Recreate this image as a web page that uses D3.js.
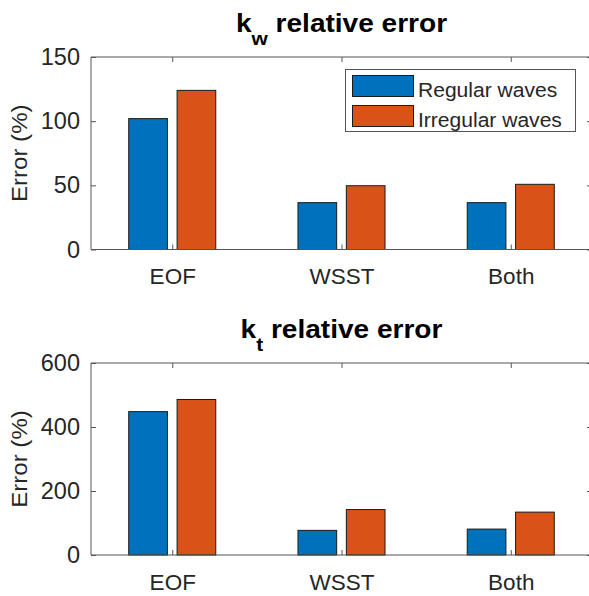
<!DOCTYPE html>
<html>
<head>
<meta charset="utf-8">
<script src="https://cdn.jsdelivr.net/npm/d3@7"></script>
<style>
  html, body { margin: 0; padding: 0; background: #fff; }
  svg { display: block; font-family: 'Liberation Sans', Arial, Helvetica, sans-serif; }
  .tick text { fill: #262626; }
  .tick line { stroke: #555; }
</style>
</head>
<body>
<div id="chart"></div>
<script>
// Data
const categories = ['EOF', 'WSST', 'Both']
const seriesNames = ['Regular waves', 'Irregular waves']
const seriesColors = ['#0072BD', '#D95319']

const kwRegular = [102, 36.5, 36.5]
const kwIrregular = [124, 49.7, 50.8]
const ktRegular = [448, 77, 81]
const ktIrregular = [486, 142, 134]

const kwTicks = [0, 50, 100, 150]
const ktTicks = [0, 200, 400, 600]

const width = 589
const height = 596

const svg = d3.select('#chart')
  .append('svg')
  .attr('width', width)
  .attr('height', height)

// Shared x scale (MATLAB style grouped bar positions 1..3)
const xScale = d3.scaleLinear().domain([0.52, 3.48]).range([91, 592])
const groupWidth = 2 / 3.5
const barWidth = groupWidth / 2 * 0.8

// Text with a slight horizontal stretch to mimic the wider renderer font
function stretchText(sel, x, y, sx, rotate) {
  const rot = rotate ? ` rotate(${rotate})` : ''
  return sel.attr('transform', `translate(${x},${y})${rot} scale(${sx},1)`)
}

function drawPanel(top, bottom, yMax, ticks, regular, irregular, sub, showLegend) {
  const yScale = d3.scaleLinear().domain([0, yMax]).range([bottom, top])
  const g = svg.append('g')
  const left = xScale.range()[0]
  const right = xScale.range()[1]

  // Bars
  const series = [regular, irregular]
  series.forEach((vals, s) => {
    g.selectAll(null)
      .data(vals)
      .enter()
      .append('rect')
      .attr('x', (d, i) => xScale(i + 1 + (s === 0 ? -1 : 1) * groupWidth / 4 - barWidth / 2))
      .attr('width', xScale(barWidth) - xScale(0))
      .attr('y', d => yScale(d))
      .attr('height', d => yScale(0) - yScale(d))
      .attr('fill', seriesColors[s])
      .attr('stroke', '#1a1a1a')
      .attr('stroke-width', 1)
  })

  // Box
  g.append('path')
    .attr('d', `M${right},${top}H${left}V${bottom}H${right}`)
    .attr('fill', 'none')
    .attr('stroke', '#555')
    .attr('stroke-width', 1)

  // Bottom axis
  g.append('g')
    .attr('transform', `translate(0,${bottom})`)
    .call(d3.axisBottom(xScale)
      .tickValues([1, 2, 3])
      .tickSize(-5)
      .tickSizeOuter(0)
      .tickPadding(19)
      .tickFormat(d => categories[d - 1]))
    .call(a => a.select('.domain').remove())
    .selectAll('text')
    .attr('font-size', 22.5)

  // Top axis ticks
  g.append('g')
    .attr('transform', `translate(0,${top})`)
    .call(d3.axisTop(xScale).tickValues([1, 2, 3]).tickSize(-5).tickSizeOuter(0).tickFormat(''))
    .call(a => a.select('.domain').remove())

  // Left axis
  g.append('g')
    .attr('transform', `translate(${left},0)`)
    .call(d3.axisLeft(yScale)
      .tickValues(ticks)
      .tickSize(-5)
      .tickSizeOuter(0)
      .tickPadding(11)
      .tickFormat(d3.format('d')))
    .call(a => a.select('.domain').remove())
    .selectAll('text')
    .attr('font-size', 23.5)

  // Right axis ticks
  g.append('g')
    .attr('transform', `translate(${right},0)`)
    .call(d3.axisRight(yScale).tickValues(ticks).tickSize(-5).tickSizeOuter(0).tickFormat(''))
    .call(a => a.select('.domain').remove())

  // Y label
  stretchText(g.append('text'), 27, (top + bottom) / 2, 1.12, -90)
    .attr('text-anchor', 'middle')
    .attr('font-size', 21.5)
    .attr('fill', '#262626')
    .text('Error (%)')

  // Title
  const title = stretchText(g.append('text'), (left + right) / 2, top - 25, 1.1)
    .attr('text-anchor', 'middle')
    .attr('font-size', 25.5)
    .attr('font-weight', 'bold')
    .attr('fill', '#000')
  title.append('tspan').text('k')
  title.append('tspan').attr('dy', 13).attr('font-size', 19).text(sub)
  title.append('tspan').attr('dy', -13).text(' relative error')

  if (showLegend) {
    const lg = g.append('g')
    lg.append('rect')
      .attr('x', 345.5).attr('y', 69.5)
      .attr('width', 230).attr('height', 62)
      .attr('fill', '#fff')
      .attr('stroke', '#555')
      .attr('stroke-width', 1)
    seriesNames.forEach((name, i) => {
      lg.append('rect')
        .attr('x', 352.5).attr('y', 75.5 + i * 30)
        .attr('width', 61).attr('height', 21)
        .attr('fill', seriesColors[i])
        .attr('stroke', '#1a1a1a')
      stretchText(lg.append('text'), 418, 96.5 + i * 30, 1.08)
        .attr('font-size', 19.5)
        .attr('fill', '#262626')
        .text(name)
    })
  }
}

drawPanel(57, 249.5, 150, kwTicks, kwRegular, kwIrregular, 'w', true)
drawPanel(363, 555, 600, ktTicks, ktRegular, ktIrregular, 't', false)
</script>
</body>
</html>
